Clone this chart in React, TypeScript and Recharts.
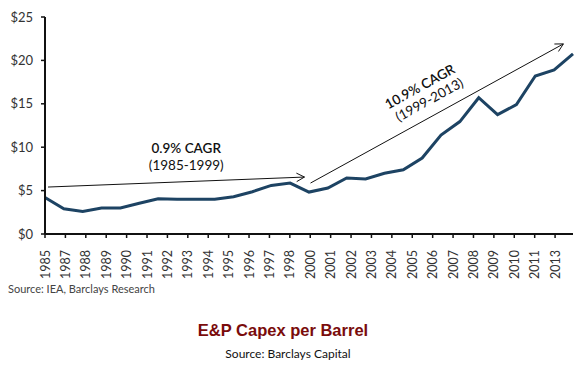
import { LineChart, Line, XAxis, YAxis, ReferenceLine } from 'recharts';

const YEARS = [
  1985, 1986, 1987, 1988, 1989, 1990, 1991, 1992, 1993, 1994, 1995, 1996, 1997, 1998, 1999,
  2000, 2001, 2002, 2003, 2004, 2005, 2006, 2007, 2008, 2009, 2010, 2011, 2012, 2013,
];
const CAPEX = [
  4.2, 2.9, 2.6, 3.0, 3.0, 3.55, 4.05, 4.0, 4.0, 4.0, 4.3, 4.87, 5.6, 5.87, 4.83,
  5.3, 6.45, 6.35, 7.0, 7.4, 8.75, 11.4, 12.95, 15.7, 13.75, 14.9, 18.2, 18.9, 20.75,
];
const TICK_LABELS = [
  '1985', '1987', '1988', '1989', '1990', '1991', '1992', '1993', '1994', '1995', '1996', '1997', '1998',
  '2000', '2001', '2002', '2003', '2004', '2005', '2006', '2007', '2008', '2009', '2010', '2011', '2013',
];
const Y_TICKS = [0, 5, 10, 15, 20, 25];

// trend arrows, in data units (x = year index, y = $/bbl)
const TREND_1 = [{ x: 0.16, y: 5.41 }, { x: 13.76, y: 6.56 }];
const TREND_2 = [{ x: 14.08, y: 5.87 }, { x: 27.49, y: 21.9 }];

const TICK_STEP = 1.082;
const FONT = 'Lato, "Open Sans", sans-serif';
const LINE_COLOR = '#1d4363';

const data = YEARS.map((year, i) => ({ pos: i, year, capex: CAPEX[i] }));
const tickPositions = TICK_LABELS.map((_, k) => k * TICK_STEP);

type Note = { text: string; dx: number; dy: number; weight?: number };

const arrowShape = (notes: Note[], rotate: boolean) => (p: any) => {
  const { x1, y1, x2, y2 } = p;
  const a = Math.atan2(y2 - y1, x2 - x1);
  const L = 9;
  const head = [
    [x2 + L * Math.cos(a + 2.65), y2 + L * Math.sin(a + 2.65)],
    [x2, y2],
    [x2 + L * Math.cos(a - 2.65), y2 + L * Math.sin(a - 2.65)],
  ];
  const mx = (x1 + x2) / 2;
  const my = (y1 + y2) / 2;
  const deg = rotate ? (a * 180) / Math.PI : 0;
  return (
    <g>
      <line x1={x1} y1={y1} x2={x2} y2={y2} stroke="#111" strokeWidth={1} />
      <polyline points={head.map((h) => h.join(',')).join(' ')} fill="none" stroke="#111" strokeWidth={1} />
      <g transform={`translate(${mx},${my}) rotate(${deg})`}>
        {notes.map((n) => (
          <text
            key={n.text}
            x={n.dx}
            y={n.dy}
            textAnchor="middle"
            dominantBaseline="central"
            fontFamily={FONT}
            fontSize={13.5}
            fontWeight={n.weight ?? 400}
            fill="#111"
          >
            {n.text}
          </text>
        ))}
      </g>
    </g>
  );
};

const YearTick = ({ x, y, index }: any) => (
  <text
    x={x}
    y={y + 10}
    transform={`rotate(-90 ${x} ${y + 10})`}
    textAnchor="end"
    dominantBaseline="central"
    fontFamily={FONT}
    fontSize={12.5}
    fill="#333"
  >
    {TICK_LABELS[index]}
  </text>
);

export default function App() {
  return (
    <div style={{ position: 'absolute', left: 0, top: 0, width: 578, height: 371, background: '#fff' }}>
      <LineChart width={578} height={280} data={data} margin={{ top: 17, right: 5, left: 0, bottom: 6 }}>
        <XAxis
          dataKey="pos"
          type="number"
          domain={[0, 28]}
          ticks={tickPositions}
          interval={0}
          height={40}
          tick={<YearTick />}
          tickSize={4}
          axisLine={{ stroke: '#111', strokeWidth: 2 }}
          tickLine={{ stroke: '#111', strokeWidth: 1.5 }}
        />
        <YAxis
          domain={[0, 25]}
          ticks={Y_TICKS}
          width={45}
          tickFormatter={(v: number) => `$${v}`}
          tick={{ fontFamily: FONT, fontSize: 13, fill: '#333', dx: -6 }}
          tickSize={4}
          axisLine={{ stroke: '#111', strokeWidth: 2 }}
          tickLine={{ stroke: '#111', strokeWidth: 1.5 }}
        />
        <Line
          dataKey="capex"
          stroke={LINE_COLOR}
          strokeWidth={3}
          dot={false}
          isAnimationActive={false}
        />
        <ReferenceLine
          segment={TREND_1}
          ifOverflow="visible"
          shape={arrowShape(
            [
              { text: '0.9% CAGR', dx: 10, dy: -34, weight: 600 },
              { text: '(1985-1999)', dx: 10, dy: -17 },
            ],
            false,
          )}
        />
        <ReferenceLine
          segment={TREND_2}
          ifOverflow="visible"
          shape={arrowShape(
            [
              { text: '10.9% CAGR', dx: -2, dy: -32, weight: 600 },
              { text: '(1999-2013)', dx: 0, dy: -16 },
            ],
            true,
          )}
        />
      </LineChart>
      <div style={{ position: 'absolute', left: 8, top: 282, fontFamily: FONT, fontSize: 11, color: '#444' }}>
        Source: IEA, Barclays Research
      </div>
      <div
        style={{
          position: 'absolute',
          left: 0,
          width: 566,
          top: 321,
          textAlign: 'center',
          fontFamily: '"Liberation Sans", Arial, sans-serif',
          fontWeight: 700,
          fontSize: 16.5,
          color: '#7a0c0c',
        }}
      >
        E&amp;P Capex per Barrel
      </div>
      <div
        style={{
          position: 'absolute',
          left: 0,
          width: 576,
          top: 346,
          textAlign: 'center',
          fontFamily: FONT,
          fontSize: 12,
          color: '#111',
        }}
      >
        Source: Barclays Capital
      </div>
    </div>
  );
}
